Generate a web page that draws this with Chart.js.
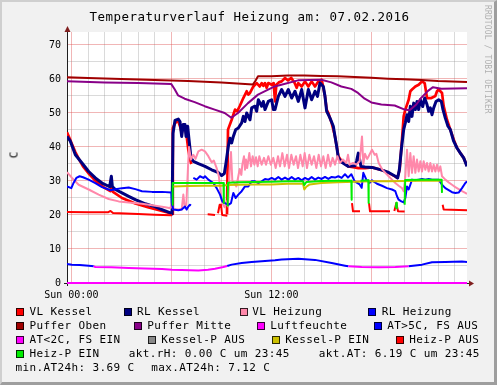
<!DOCTYPE html>
<html><head><meta charset="utf-8">
<script src="https://cdn.jsdelivr.net/npm/chart.js@4.4.1/dist/chart.umd.min.js"></script>
<style>
html,body{margin:0;padding:0;background:#F1F1F1;}
#frame{position:absolute;left:0;top:0;width:497px;height:385px;box-sizing:border-box;background:#F1F1F1;border-style:solid;border-width:2px 3px 3px 2px;border-color:#CFCFCF #9E9E9E #9E9E9E #CFCFCF;}
canvas{position:absolute;left:0;top:0;}
.t{position:absolute;white-space:pre;font-family:"DejaVu Sans Mono",monospace;color:#000;line-height:normal;}
.sw{position:absolute;width:8px;height:8px;box-sizing:border-box;border:1px solid rgba(0,0,0,0.8);}
</style></head><body>
<div id="frame"></div>
<canvas id="c" width="497" height="385"></canvas>
<div id="texts"></div>
<script>
// ---- axis / label data ----
const hourTicks = [0,1,2,3,4,5,6,7,8,9,10,11,12,13,14,15,16,17,18,19,20,21,22,23];
const xTickLabels = {0:'Sun 00:00', 12:'Sun 12:00'};
const yTickValues = [0,5,10,15,20,25,30,35,40,45,50,55,60,65,70];
const titleText = 'Temperaturverlauf Heizung am: 07.02.2016';
const yAxisTitle = 'C';
const seriesNames = ['VL Kessel','RL Kessel','VL Heizung','RL Heizung','Puffer Oben','Puffer Mitte','Luftfeuchte','AT>5C, FS AUS','AT<2C, FS EIN','Kessel-P AUS','Kessel-P EIN','Heiz-P AUS','Heiz-P EIN'];
const seriesColors = ['#FF0000','#000080','#FF88AA','#0000FF','#A00000','#880088','#FF00FF','#0000FF','#FF00FF','#888888','#CCC000','#FF0000','#00EE00'];
const infoTexts = ['akt.rH: 0.00 C um 23:45','akt.AT: 6.19 C um 23:45','min.AT24h: 3.69 C','max.AT24h: 7.12 C'];

// ---- series data: [hour, value] ----
const vlKessel = [[-0.26,44.3],[-0.1,42.5],[0.04,40.8],[0.24,38.5],[0.44,36.6],[0.7,34.3],[1.04,32.2],[1.34,30.6],[1.64,29.2],[2.0,28.0],[2.34,27.0],[2.4,28.5],[2.5,26.8],[3.04,25.0],[3.44,24.2],[3.84,23.4],[4.24,22.8],[4.64,22.2],[5.04,21.7],[5.44,21.2],[5.94,20.5],[6.04,20.3],[6.09,45.5],[6.2,46.8],[6.32,47.6],[6.42,47.5],[6.52,46.1],[6.62,44.1],[6.72,46.6],[6.82,46.2],[6.92,43.1],[7.02,39.2],[7.12,36.3],[7.2,35.0],[7.22,null],[9.34,20.2],[9.4,45.1],[9.62,48.0],[9.82,51.0],[9.95,50.5],[10.12,52.2],[10.32,54.4],[10.52,56.4],[10.62,55.4],[10.72,55.9],[10.92,57.8],[11.12,58.8],[11.3,57.8],[11.42,58.8],[11.52,58.0],[11.62,58.8],[11.72,57.4],[11.82,58.8],[12.02,58.3],[12.14,58.8],[12.22,53.4],[12.3,58.3],[12.45,59.0],[12.62,59.3],[12.82,60.3],[13.0,59.6],[13.2,60.3],[13.4,58.8],[13.52,57.4],[13.62,58.8],[13.82,57.8],[14.02,59.3],[14.22,57.8],[14.42,59.3],[14.62,57.8],[14.82,59.3],[15.02,59.8],[15.12,57.4],[15.22,54.9],[15.32,51.0],[15.42,50.0],[15.52,48.5],[15.62,47.1],[15.72,45.1],[15.82,43.1],[15.92,40.2],[16.02,37.3],[16.22,35.8],[16.42,35.0],[16.62,34.3],[17.0,34.0],[17.22,33.8],[17.62,33.8],[18.04,34.0],[18.64,33.2],[19.04,32.4],[19.44,31.3],[19.56,30.9],[19.7,33.3],[19.84,42.2],[19.94,49.0],[20.04,51.0],[20.24,53.9],[20.34,56.4],[20.44,56.9],[20.64,57.8],[20.84,58.3],[21.04,59.3],[21.2,58.8],[21.34,54.4],[21.6,54.4],[21.84,55.0],[21.94,56.4],[22.04,56.9],[22.24,55.9],[22.34,52.0],[22.54,48.0],[22.74,45.1],[22.94,42.2],[23.14,39.7],[23.34,38.2],[23.54,36.8],[23.74,34.5]];
const rlKessel = [[-0.26,43.1],[-0.06,41.7],[0.24,37.7],[0.64,35.3],[1.04,32.8],[1.44,30.9],[1.84,29.4],[2.3,28.3],[2.4,31.4],[2.46,28.4],[2.64,27.5],[3.04,26.5],[3.44,25.5],[3.84,24.5],[4.44,23.3],[5.04,22.4],[5.44,21.6],[5.94,20.6],[6.04,20.3],[6.1,44.0],[6.22,47.8],[6.42,48.2],[6.52,47.5],[6.62,43.1],[6.72,46.6],[6.82,46.6],[6.88,43.1],[6.98,46.1],[7.06,42.2],[7.18,36.8],[7.32,35.8],[7.62,35.1],[8.02,34.3],[8.42,33.3],[8.82,32.5],[9.02,31.6],[9.18,32.2],[9.28,35.3],[9.42,40.2],[9.52,42.6],[9.62,41.2],[9.72,43.1],[9.86,45.1],[10.02,45.6],[10.22,47.1],[10.32,49.0],[10.42,47.5],[10.52,50.0],[10.72,48.0],[10.82,51.5],[11.02,52.0],[11.12,50.5],[11.22,53.9],[11.42,52.0],[11.52,53.4],[11.62,51.0],[11.82,53.4],[12.02,53.9],[12.12,51.0],[12.22,51.0],[12.42,54.9],[12.62,56.9],[12.82,54.9],[13.02,56.9],[13.22,54.4],[13.42,56.4],[13.62,53.4],[13.82,56.9],[14.02,51.5],[14.22,56.9],[14.42,53.9],[14.62,56.4],[14.77,54.9],[14.92,58.8],[15.12,57.8],[15.22,54.9],[15.32,50.5],[15.42,49.5],[15.52,48.5],[15.72,46.1],[15.82,43.1],[15.92,40.2],[16.02,36.8],[16.22,35.5],[16.62,34.3],[17.02,34.5],[17.12,36.0],[17.22,38.2],[17.38,34.3],[17.62,34.1],[18.04,34.0],[18.64,33.2],[19.04,32.5],[19.44,31.4],[19.58,30.9],[19.68,33.3],[19.8,39.2],[19.94,45.1],[20.04,47.1],[20.14,49.5],[20.24,47.5],[20.34,52.0],[20.44,49.0],[20.54,52.9],[20.64,51.0],[20.74,53.4],[20.84,51.0],[20.94,53.9],[21.08,51.9],[21.2,54.4],[21.34,52.5],[21.44,50.5],[21.54,51.5],[21.64,49.5],[21.74,51.5],[21.88,53.4],[22.04,53.9],[22.2,53.4],[22.3,51.0],[22.44,48.5],[22.6,46.1],[22.74,45.1],[22.94,41.7],[23.14,39.7],[23.34,38.2],[23.54,36.8],[23.74,34.3]];
const vlHeizung = [[-0.26,32.6],[0.04,30.9],[0.44,28.9],[1.04,27.5],[1.64,26.0],[2.24,24.7],[2.84,24.0],[3.44,23.7],[4.24,23.3],[5.04,22.7],[5.64,22.3],[5.94,22.0],[6.02,23.5],[6.1,21.8],[6.42,21.6],[6.62,21.6],[6.72,26.0],[6.8,22.5],[6.9,23.0],[7.0,34.0],[7.06,40.0],[7.18,36.3],[7.32,37.7],[7.45,36.5],[7.62,38.7],[7.82,39.2],[8.02,38.7],[8.22,37.3],[8.42,35.5],[8.55,36.0],[8.72,33.8],[8.85,31.4],[8.95,27.0],[9.05,23.5],[9.2,22.3],[9.32,24.0],[9.4,22.5],[9.5,33.0],[9.58,38.5],[9.66,30.0],[9.78,29.5],[9.9,28.4],[10.02,31.4],[10.1,33.5],[10.2,31.8],[10.26,34.8],[10.36,37.3],[10.42,33.3],[10.48,36.3],[10.55,33.8],[10.68,38.2],[10.78,34.3],[10.88,37.3],[10.98,34.8],[11.08,37.0],[11.18,34.3],[11.28,37.3],[11.42,34.8],[11.56,36.8],[11.68,34.8],[11.82,37.3],[11.97,34.8],[12.12,36.8],[12.26,33.8],[12.4,37.3],[12.52,34.3],[12.66,38.2],[12.8,34.3],[12.94,37.7],[13.06,33.8],[13.2,37.7],[13.34,34.8],[13.48,37.3],[13.6,33.8],[13.74,37.7],[13.88,34.3],[14.0,38.2],[14.14,33.8],[14.28,37.7],[14.42,34.8],[14.56,37.3],[14.7,33.8],[14.84,37.7],[14.98,34.3],[15.12,37.3],[15.26,33.8],[15.4,37.7],[15.54,34.3],[15.68,36.8],[15.82,34.8],[15.96,37.3],[16.1,35.3],[16.3,36.3],[16.5,35.3],[16.6,37.7],[16.7,34.8],[16.9,35.3],[17.1,34.8],[17.3,35.8],[17.44,43.1],[17.52,35.0],[17.62,38.0],[17.75,36.5],[17.84,37.3],[18.04,39.2],[18.2,37.7],[18.3,38.0],[18.44,35.3],[18.64,33.5],[18.84,32.4],[19.04,31.4],[19.24,30.4],[19.44,29.4],[19.64,28.6],[19.84,27.9],[19.94,27.0],[20.04,31.4],[20.14,39.2],[20.24,31.4],[20.34,38.2],[20.44,32.4],[20.54,37.3],[20.64,32.4],[20.74,36.3],[20.84,32.8],[20.94,35.8],[21.04,32.8],[21.14,35.8],[21.24,33.3],[21.34,35.3],[21.44,32.8],[21.54,35.3],[21.64,32.8],[21.74,34.8],[21.84,32.8],[21.94,34.8],[22.04,32.8],[22.14,34.3],[22.24,31.4],[22.44,30.4],[22.64,29.6],[22.84,28.9],[23.04,28.2],[23.24,27.6],[23.44,27.0],[23.64,26.5],[23.74,26.2]];
const rlHeizung = [[-0.26,28.4],[0.0,27.9],[0.14,29.5],[0.3,30.9],[0.5,31.4],[0.7,31.1],[1.04,30.4],[1.44,29.4],[1.84,28.2],[2.24,27.5],[2.34,27.3],[2.64,27.6],[3.04,27.9],[3.44,28.1],[3.84,27.6],[4.24,27.0],[4.84,26.8],[5.44,26.8],[6.0,26.6],[6.04,23.0],[6.12,21.6],[6.42,21.4],[6.62,21.6],[6.82,22.5],[6.92,21.6],[7.02,22.5],[7.12,23.0],[7.18,22.8],[7.25,null],[7.32,30.9],[7.52,30.4],[7.72,31.4],[7.92,30.9],[8.02,31.4],[8.22,30.4],[8.52,29.4],[8.72,27.9],[8.92,26.0],[9.06,24.0],[9.22,23.5],[9.42,23.0],[9.58,23.5],[9.72,26.5],[9.86,25.0],[10.02,26.0],[10.22,27.0],[10.42,28.4],[10.62,28.4],[10.82,29.9],[11.02,29.9],[11.22,29.4],[11.42,29.9],[11.62,30.6],[11.82,30.4],[12.02,30.9],[12.22,30.4],[12.42,31.2],[12.62,30.4],[12.82,31.0],[13.02,30.4],[13.22,31.2],[13.42,30.4],[13.62,30.9],[13.82,30.2],[14.02,30.9],[14.22,30.4],[14.42,31.2],[14.62,30.4],[14.82,31.0],[15.02,30.6],[15.22,31.2],[15.42,30.6],[15.62,31.2],[15.82,31.0],[16.02,31.4],[16.22,30.9],[16.42,32.0],[16.6,31.0],[16.8,32.0],[17.0,29.9],[17.3,29.0],[17.42,28.0],[17.52,32.4],[17.7,30.4],[17.9,29.5],[18.04,30.2],[18.34,29.2],[18.64,28.6],[18.94,27.9],[19.24,27.5],[19.44,27.0],[19.54,25.5],[19.64,24.5],[19.8,24.0],[19.94,23.7],[20.04,25.0],[20.14,28.4],[20.24,27.5],[20.34,28.9],[20.44,30.4],[20.64,30.2],[20.84,30.4],[21.04,30.6],[21.24,30.4],[21.44,30.6],[21.64,30.4],[21.84,30.4],[22.04,30.4],[22.24,28.9],[22.44,27.9],[22.64,27.3],[22.84,26.7],[23.04,26.5],[23.24,26.6],[23.44,27.9],[23.64,29.4],[23.74,29.9]];
const pufferOben = [[-0.26,60.5],[1,60.3],[3,60.0],[5,59.7],[7,59.4],[9,59.0],[10.9,58.4],[11.05,59.5],[11.2,60.8],[12,60.8],[13,61.0],[14,61.0],[15,60.9],[16,60.8],[17,60.6],[18,60.4],[19,60.1],[20,59.9],[21,59.7],[22,59.4],[23.74,59.1]];
const pufferMitte = [[-0.26,59.3],[2,59.0],[4,58.8],[6.0,58.5],[6.2,57.0],[6.4,55.2],[6.8,54.2],[7.4,53.2],[8.0,52.0],[8.6,51.0],[9.2,50.0],[9.6,48.6],[10.0,50.0],[10.6,52.9],[11.2,55.4],[12.2,57.8],[12.6,58.3],[13.6,59.6],[15.0,59.8],[15.6,59.0],[16.2,57.8],[16.8,57.1],[17.2,55.9],[17.6,54.2],[18.0,53.1],[18.6,52.5],[19.4,52.2],[20.0,51.0],[20.3,50.8],[20.7,52.5],[21.0,54.5],[21.4,56.5],[21.7,57.6],[22.2,57.1],[23.74,57.3]];
const luftfeuchte = [[-0.26,0],[6,0],[12,0],[18,0],[23.74,0]];
const aussenTemp = [[-0.26,5.6],[0.04,5.4],[0.5,5.3],[1.04,5.1],[1.34,4.96],[1.44,4.7],[2.4,4.6],[3.44,4.4],[4.4,4.3],[5.44,4.1],[6.04,3.9],[6.62,3.85],[7.62,3.7],[8.2,3.9],[8.62,4.2],[9.12,4.7],[9.35,5.0],[9.62,5.4],[10.22,5.9],[10.82,6.2],[11.42,6.4],[12.22,6.7],[12.62,6.9],[13.62,7.1],[14.62,6.8],[15.62,5.9],[16.42,5.1],[16.62,4.9],[17.42,4.7],[18.44,4.6],[19.44,4.7],[20.24,4.9],[21.04,5.4],[21.64,6.1],[22.44,6.2],[23.44,6.3],[23.74,6.2]];
const kesselPAus = [];
const kesselPEin = [[6.1,28.4],[7,28.5],[8,28.6],[9,28.6],[9.4,28.8],[10,28.9],[11,29.0],[12,29.0],[13,29.2],[13.9,29.2],[13.98,27.5],[14.1,28.3],[14.3,29.0],[15,29.4],[16,29.6],[17,29.8],[18,29.9],[19,29.9],[20,30.0],[21,30.1],[22.24,30.1]];
const heizPAus = [[-0.26,20.9],[1,20.8],[2.2,20.8],[2.35,21.2],[2.5,20.6],[4,20.3],[5,20.1],[6.0,19.9],[6.04,19.9],[6.06,null],[8.18,20.2],[8.62,20.0],[8.7,null],[8.8,20.5],[8.9,23.0],[8.98,23.0],[9.05,20.0],[9.36,19.8],[9.38,null],[16.84,23.5],[16.9,21.1],[17.32,21.1],[17.34,null],[17.86,23.5],[17.92,21.1],[19.12,21.1],[19.2,null],[19.38,21.2],[19.5,23.5],[19.6,21.1],[20.0,21.0],[20.02,null],[22.28,23.0],[22.34,21.6],[23.74,21.4]];
const heizPEin = [[6.04,23.0],[6.08,29.4],[7,29.4],[8,29.4],[9.13,29.4],[9.15,23.5],[9.2,null],[9.38,22.5],[9.4,29.5],[10,29.6],[11,29.7],[12,29.8],[13,29.9],[13.9,29.9],[13.98,28.8],[14.1,29.7],[15,30.0],[16,30.1],[16.8,30.1],[16.82,24.5],[17.0,null],[17.35,30.1],[17.82,30.2],[17.84,23.5],[18.5,null],[19.47,22.0],[19.5,23.6],[19.53,22.0],[19.8,null],[20.0,23.0],[20.03,30.3],[21,30.4],[22.22,30.4],[22.24,26.5]];

// ---- layout (positions) ----
const legendLayout = [ // [swatchX, textX, row]
 [16,29.5,0],[123.6,137,0],[239.5,252.2,0],[368.4,381.8,0],
 [16,29.5,1],[134,147.2,1],[257,270.2,1],[374,387.2,1],
 [16,29.5,2],[147.7,161.2,2],[271.7,285.2,2],[395.7,409.2,2],
 [16,29.5,3]
];
const infoLayout = [[128.8,3],[318.8,3],[15.5,4],[151.2,4]];

function toPts(arr){ return arr.map(p => ({x:p[0], y:p[1]})); }
function splitBy(arr, test){
  const out = [];
  for (let i = 0; i < arr.length; i++) {
    const prev = i > 0 && test((arr[i-1][1] + arr[i][1]) / 2);
    const next = i < arr.length - 1 && test((arr[i][1] + arr[i+1][1]) / 2);
    out.push({x: arr[i][0], y: (prev || next) ? arr[i][1] : null});
    if (i < arr.length - 1 && !next) out.push({x: (arr[i][0] + arr[i+1][0]) / 2, y: null});
  }
  return out;
}
const seriesData = [
  toPts(vlKessel), toPts(rlKessel), toPts(vlHeizung), toPts(rlHeizung),
  toPts(pufferOben), toPts(pufferMitte), toPts(luftfeuchte),
  splitBy(aussenTemp, v => v >= 4.95), splitBy(aussenTemp, v => v < 4.95),
  toPts(kesselPAus), toPts(kesselPEin), toPts(heizPAus), toPts(heizPEin)
];
const widths = [2.7,3,2,2,2,2,2.2,2,2,2,2,2,2];

const datasets = seriesNames.map((n, i) => ({
  label: n, data: seriesData[i], borderColor: seriesColors[i], backgroundColor: seriesColors[i],
  borderWidth: widths[i], pointRadius: 0, tension: 0, spanGaps: false, fill: false,
  borderJoinStyle: 'round', order: 100 - i, clip: {left: 0, top: 3, right: 0, bottom: 3}
}));

const MAJOR = 'rgba(222,80,80,0.42)', MINOR = 'rgba(143,143,143,0.33)';
const mono = '"DejaVu Sans Mono", monospace';

const framePlugin = {
  id: 'framePlugin',
  beforeDraw(chart) {
    const {ctx, chartArea: a} = chart;
    ctx.save(); ctx.fillStyle = '#FFFFFF';
    ctx.fillRect(a.left, a.top, a.right - a.left, a.bottom - a.top);
    ctx.restore();
  },
  beforeDatasetsDraw(chart) {
    const {ctx, chartArea: a} = chart;
    ctx.save(); ctx.strokeStyle = '#1F1F1F'; ctx.lineWidth = 1; ctx.beginPath();
    ctx.moveTo(a.left + 0.5, a.bottom + 3); ctx.lineTo(a.left + 0.5, a.top - 3);
    ctx.moveTo(a.left - 3, a.bottom + 0.5); ctx.lineTo(a.right + 4, a.bottom + 0.5);
    ctx.stroke(); ctx.restore();
  },
  afterDatasetsDraw(chart) {
    const {ctx, chartArea: a} = chart;
    ctx.save(); ctx.fillStyle = '#801F1F';
    ctx.beginPath(); ctx.moveTo(a.left + 0.5, a.top - 6); ctx.lineTo(a.left - 2.5, a.top); ctx.lineTo(a.left + 3.5, a.top); ctx.closePath(); ctx.fill();
    ctx.beginPath(); ctx.moveTo(a.right + 7, a.bottom + 0.5); ctx.lineTo(a.right + 2, a.bottom - 2.5); ctx.lineTo(a.right + 2, a.bottom + 3.5); ctx.closePath(); ctx.fill();
    ctx.restore();
  }
};

new Chart(document.getElementById('c'), {
  type: 'line',
  data: { datasets },
  plugins: [framePlugin],
  options: {
    responsive: false, animation: false, devicePixelRatio: 1, parsing: false, normalized: true,
    layout: { padding: { left: 0, right: 30, top: 32, bottom: 0 } },
    plugins: { legend: { display: false }, tooltip: { enabled: false }, title: { display: false } },
    scales: {
      x: {
        type: 'linear', min: -0.26, max: 23.74,
        afterBuildTicks: s => { s.ticks = hourTicks.map(v => ({value: v})); },
        afterFit: s => { s.height = 102; },
        grid: { color: c => (c.tick && c.tick.value % 6 === 0) ? MAJOR : MINOR, lineWidth: 1, drawTicks: false },
        border: { display: false },
        ticks: { autoSkip: false, maxRotation: 0, minRotation: 0, padding: 6, color: '#000',
                 font: { family: mono, size: 10 }, callback: v => xTickLabels[v] || '' }
      },
      y: {
        type: 'linear', min: 0, max: 73.82,
        afterBuildTicks: s => { s.ticks = yTickValues.map(v => ({value: v})); },
        afterFit: s => { s.width = 67; },
        grid: { color: c => (c.tick && c.tick.value === 0) ? 'rgba(0,0,0,0)' : ((c.tick && c.tick.value % 10 === 0) ? MAJOR : MINOR), lineWidth: 1, drawTicks: false },
        border: { display: false },
        ticks: { padding: 6, color: '#000', font: { family: mono, size: 10 },
                 callback: v => (v % 10 === 0) ? String(v) : '' }
      }
    }
  }
});

// ---- texts ----
const box = document.getElementById('texts');
function addText(str, x, baseline, size, spacing, extra) {
  const d = document.createElement('div');
  d.className = 't'; d.textContent = str;
  d.style.left = x + 'px'; d.style.top = (baseline - 0.928 * size) + 'px';
  d.style.fontSize = size + 'px'; d.style.letterSpacing = spacing + 'px';
  if (extra) Object.assign(d.style, extra);
  box.appendChild(d); return d;
}
addText(titleText, 89.6, 20.6, 12.5, 0.47);
const rowBase = r => 315 + 14 * r;
legendLayout.forEach((l, i) => {
  const s = document.createElement('div'); s.className = 'sw';
  s.style.left = l[0] + 'px'; s.style.top = (rowBase(l[2]) - 7.5) + 'px'; s.style.background = seriesColors[i];
  box.appendChild(s);
  addText(seriesNames[i], l[1], rowBase(l[2]), 11, 0.38);
});
infoLayout.forEach((l, i) => addText(infoTexts[i], l[0], rowBase(l[1]), 11, 0.38));
// y axis title
const yt = document.createElement('div'); yt.className = 't'; yt.textContent = yAxisTitle;
Object.assign(yt.style, {left: '13.5px', top: '155px', fontSize: '11px', transform: 'translate(-50%,-50%) rotate(-90deg)'});
box.appendChild(yt);
// watermark
const wm = document.createElement('div'); wm.className = 't'; wm.textContent = 'RRDTOOL / TOBI OETIKER';
Object.assign(wm.style, {left: '482.5px', top: '5px', fontSize: '8px', letterSpacing: '0.13px', writingMode: 'vertical-rl', color: '#B0B0B0'});
box.appendChild(wm);
</script>
</body></html>
